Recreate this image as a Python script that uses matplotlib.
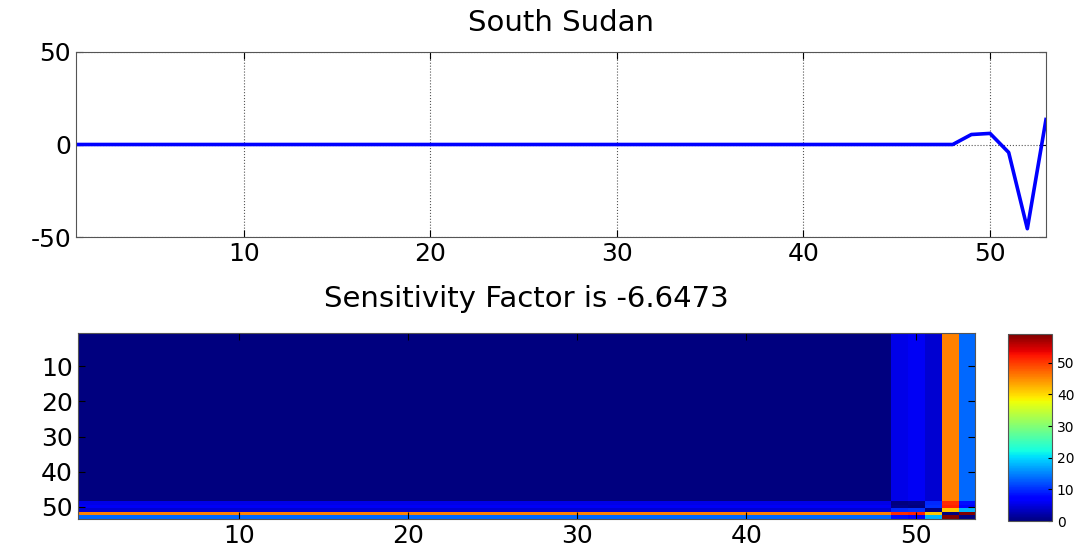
import numpy as np
import matplotlib
matplotlib.use("Agg")
import matplotlib.pyplot as plt

plt.rcParams["font.family"] = ["DejaVu Sans"]
plt.rcParams["axes.unicode_minus"] = False

# series values per index 1..53 (zero up to 48)
idx = np.arange(1, 54)
tail = [5.4, 6.0, -4.3, -45.5, 13.5]   # values at 49..53
series = np.zeros(53)
series[48:] = tail

title_top = "South Sudan"
title_bottom = "Sensitivity Factor is -6.6473"
ticks = [10, 20, 30, 40, 50]
cb_ticks = [0, 10, 20, 30, 40, 50]

# pairwise absolute differences shown in the lower panel
diff = np.abs(series[:, None] - series[None, :])

fig = plt.figure(figsize=(10.89, 5.56), dpi=100)

ax1 = fig.add_axes([0.0698, 0.5737, 0.8907, 0.3328])
ax1.plot(idx, series, color=(0, 0, 1), lw=2.6)
ax1.set_xlim(1, 53)
ax1.set_ylim(-50, 50)
ax1.set_xticks(ticks)
ax1.set_yticks([-50, 0, 50])
ax1.grid(True, linestyle=":", color="#555555", lw=0.8)
ax1.set_title(title_top, fontsize=21, pad=15)
ax1.tick_params(direction="in", top=True, right=True, labelsize=18, length=5)
for s in ax1.spines.values():
    s.set_color("#555555")

ax2 = fig.add_axes([0.0716, 0.0665, 0.8237, 0.3346])
im = ax2.imshow(diff, cmap="jet", aspect="auto", interpolation="nearest",
                extent=(0.5, 53.5, 53.5, 0.5), vmin=0, vmax=diff.max())
ax2.set_xticks(ticks)
ax2.set_yticks(ticks)
ax2.set_title(title_bottom, fontsize=21, pad=19)
ax2.tick_params(direction="in", top=True, right=True, labelsize=18, length=5)
for s in ax2.spines.values():
    s.set_color("#555555")

cax = fig.add_axes([0.9256, 0.0629, 0.0404, 0.336])
cb = fig.colorbar(im, cax=cax, ticks=cb_ticks)
cb.ax.tick_params(direction="in", labelsize=10, length=3)
cb.outline.set_edgecolor("#555555")

fig.savefig("out.png", dpi=100)
